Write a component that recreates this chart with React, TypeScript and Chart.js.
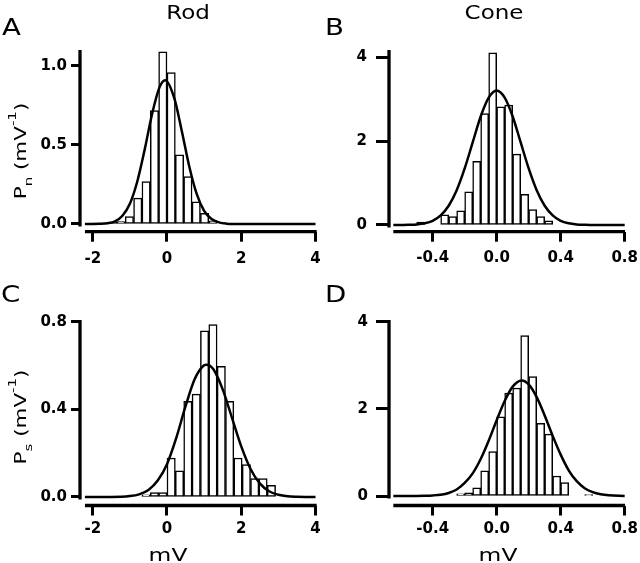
import { useEffect, useRef } from "react"
import { Chart, registerables } from "chart.js"

Chart.register(...registerables)

const FONT = '"DejaVu Sans", "Liberation Sans", sans-serif'

// bin widths of the histograms (mV)
const rodBinWidth = 0.225
const coneBinWidth = 0.05

// A - rod, noise
const rodNoiseBinStarts = [-2.025, -1.8, -1.575, -1.35, -1.125, -0.9, -0.675, -0.45, -0.225, 0, 0.225, 0.45, 0.675, 0.9, 1.125]
const rodNoiseDensity = [0.006, 0.006, 0.012, 0.015, 0.046, 0.163, 0.268, 0.717, 1.09, 0.958, 0.437, 0.3, 0.14, 0.068, 0.02]
const rodNoiseFitX = [-2.21, -2.0, -1.8, -1.6, -1.4, -1.2, -1.0, -0.8, -0.6, -0.4, -0.2, -0.05, 0.2, 0.4, 0.6, 0.8, 1.0, 1.2, 1.4, 1.6, 1.8, 2.2, 4.0]
const rodNoiseFitY = [0, 0, 0.001, 0.005, 0.017, 0.052, 0.128, 0.269, 0.472, 0.698, 0.866, 0.91, 0.794, 0.587, 0.364, 0.19, 0.083, 0.031, 0.01, 0.002, 0, 0, 0]

// B - cone, noise
const coneNoiseBinStarts = [-0.5, -0.35, -0.3, -0.25, -0.2, -0.15, -0.1, -0.05, 0, 0.05, 0.1, 0.15, 0.2, 0.25, 0.3]
const coneNoiseDensity = [0.07, 0.24, 0.2, 0.34, 0.79, 1.52, 2.66, 4.11, 2.82, 2.86, 1.69, 0.73, 0.37, 0.2, 0.1]
const coneNoiseFitX = [-0.646, -0.6, -0.55, -0.5, -0.45, -0.4, -0.35, -0.3, -0.25, -0.2, -0.15, -0.1, -0.05, 0, 0.05, 0.1, 0.15, 0.2, 0.25, 0.3, 0.35, 0.4, 0.45, 0.5, 0.55, 0.6, 0.8]
const coneNoiseFitY = [0, 0, 0.005, 0.014, 0.04, 0.1, 0.23, 0.46, 0.83, 1.35, 1.97, 2.59, 3.04, 3.21, 3.04, 2.59, 1.97, 1.35, 0.83, 0.46, 0.23, 0.1, 0.04, 0.014, 0.005, 0, 0]

// C - rod, signal
const rodSignalBinStarts = [-0.675, -0.45, -0.225, 0, 0.225, 0.45, 0.675, 0.9, 1.125, 1.35, 1.575, 1.8, 2.025, 2.25, 2.475, 2.7]
const rodSignalDensity = [0.01, 0.02, 0.02, 0.178, 0.119, 0.437, 0.47, 0.759, 0.788, 0.597, 0.437, 0.178, 0.148, 0.084, 0.084, 0.053]
const rodSignalFitX = [-2.21, -1.5, -1.0, -0.75, -0.5, -0.25, 0, 0.25, 0.5, 0.75, 1.0, 1.07, 1.25, 1.5, 1.75, 2.0, 2.25, 2.5, 2.75, 3.0, 3.25, 3.5, 4.0]
const rodSignalFitY = [0, 0, 0.004, 0.012, 0.032, 0.075, 0.15, 0.27, 0.415, 0.54, 0.602, 0.605, 0.584, 0.492, 0.362, 0.231, 0.128, 0.062, 0.026, 0.01, 0.003, 0.001, 0]

// D - cone, signal
const coneSignalBinStarts = [-0.25, -0.2, -0.15, -0.1, -0.05, 0, 0.05, 0.1, 0.15, 0.2, 0.25, 0.3, 0.35, 0.4, 0.55]
const coneSignalDensity = [0.05, 0.07, 0.19, 0.58, 1.02, 1.82, 2.36, 2.48, 3.68, 2.74, 1.67, 1.42, 0.46, 0.31, 0.03]
const coneSignalFitX = [-0.646, -0.5, -0.45, -0.4, -0.35, -0.3, -0.25, -0.2, -0.15, -0.1, -0.05, 0, 0.05, 0.1, 0.156, 0.2, 0.25, 0.3, 0.35, 0.4, 0.45, 0.5, 0.55, 0.6, 0.65, 0.7, 0.8]
const coneSignalFitY = [0, 0.001, 0.005, 0.013, 0.03, 0.07, 0.15, 0.3, 0.52, 0.85, 1.27, 1.74, 2.18, 2.51, 2.65, 2.56, 2.27, 1.85, 1.38, 0.95, 0.59, 0.34, 0.18, 0.09, 0.04, 0.015, 0]

// tick labels
const rodMvTicks = [-2, 0, 2, 4]
const coneMvTicks = [-0.4, 0, 0.4, 0.8]
const rodNoiseYTicks = [0, 0.5, 1]
const coneNoiseYTicks = [0, 2, 4]
const rodSignalYTicks = [0, 0.4, 0.8]
const coneSignalYTicks = [0, 2, 4]

const Y_AXIS_W = 60
const X_AXIS_H = 40

interface PanelProps {
  left: number
  top: number
  width: number
  height: number
  area: { left: number; right: number; top: number; bottom: number }
  xMin: number
  xMax: number
  yMin: number
  yMax: number
  xStart: number
  xTicks: number[]
  yTicks: number[]
  xDecimals: number
  yDecimals: number
  binStarts: number[]
  binWidth: number
  density: number[]
  fitX: number[]
  fitY: number[]
  yTickLength: number
  yTickPadding: number
  xTickPadding: number
}

// Igor-style axes: y axis stops at zero, x axis starts a bit right of the y axis
function offsetAxes(xStart: number) {
  return {
    id: "offsetAxes",
    afterDraw(chart: any) {
      const { ctx, chartArea, scales } = chart
      const zero = scales.y.getPixelForValue(0)
      ctx.save()
      ctx.strokeStyle = "#000"
      ctx.lineWidth = 3.3
      ctx.beginPath()
      ctx.moveTo(chartArea.left, chartArea.top)
      ctx.lineTo(chartArea.left, zero + 2.5)
      ctx.moveTo(scales.x.getPixelForValue(xStart), chartArea.bottom)
      ctx.lineTo(chartArea.right, chartArea.bottom)
      ctx.stroke()
      ctx.restore()
    },
  }
}

function HistogramPanel(p: PanelProps) {
  const chartRef = useRef<HTMLCanvasElement>(null)

  useEffect(() => {
    if (!chartRef.current) return
    const tickFont = { family: FONT, size: 15, weight: "bold" }
    const chart = new Chart(chartRef.current, {
      type: "bar",
      data: {
        datasets: [
          {
            type: "line",
            data: p.fitX.map((x, i) => ({ x, y: p.fitY[i] })),
            borderColor: "#000",
            borderWidth: 2.5,
            pointRadius: 0,
            cubicInterpolationMode: "monotone",
            fill: false,
            order: 0,
          } as any,
          {
            type: "bar",
            data: p.binStarts.map((s, i) => ({ x: s + p.binWidth / 2, y: p.density[i] })),
            backgroundColor: "#fff",
            borderColor: "#000",
            borderWidth: 1.5,
            borderSkipped: false,
            barPercentage: 1,
            categoryPercentage: 1,
            order: 1,
          },
        ],
      },
      options: {
        responsive: false,
        animation: false,
        layout: {
          padding: {
            left: p.area.left - Y_AXIS_W,
            right: p.width - p.area.right,
            top: p.area.top,
            bottom: p.height - p.area.bottom - X_AXIS_H,
          },
        },
        plugins: { legend: { display: false }, tooltip: { enabled: false } },
        scales: {
          x: {
            type: "linear",
            min: p.xMin,
            max: p.xMax,
            offset: false,
            afterBuildTicks: (s: any) => {
              s.ticks = p.xTicks.map((v) => ({ value: v }))
            },
            afterFit: (s: any) => {
              s.height = X_AXIS_H
            },
            border: { display: false },
            grid: {
              offset: false,
              drawOnChartArea: false,
              drawTicks: true,
              tickLength: 10,
              tickWidth: 3,
              tickColor: "#000",
            },
            ticks: {
              autoSkip: false,
              maxRotation: 0,
              padding: p.xTickPadding,
              color: "#000",
              font: tickFont,
              callback: (v: any) => Number(v).toFixed(p.xDecimals),
            },
          },
          y: {
            type: "linear",
            min: p.yMin,
            max: p.yMax,
            afterBuildTicks: (s: any) => {
              s.ticks = p.yTicks.map((v) => ({ value: v }))
            },
            afterFit: (s: any) => {
              s.width = Y_AXIS_W
            },
            border: { display: false },
            grid: {
              drawOnChartArea: false,
              drawTicks: true,
              tickLength: p.yTickLength,
              tickWidth: 3,
              tickColor: "#000",
            },
            ticks: {
              padding: p.yTickPadding,
              color: "#000",
              font: tickFont,
              callback: (v: any) => Number(v).toFixed(p.yDecimals),
            },
          },
        },
      } as any,
      plugins: [offsetAxes(p.xStart)],
    })

    return () => {
      chart.destroy()
    }
  }, [])

  return (
    <canvas
      ref={chartRef}
      width={p.width}
      height={p.height}
      style={{ position: "absolute", left: p.left, top: p.top, width: p.width, height: p.height }}
    />
  )
}

const textBase: any = {
  position: "absolute",
  fontFamily: FONT,
  lineHeight: 1,
  whiteSpace: "nowrap",
  color: "#000",
}

function Letter({ x, baseline, text }: { x: number; baseline: number; text: string }) {
  return (
    <div
      style={{
        ...textBase,
        left: x,
        top: baseline - 0.846 * 23,
        fontSize: 23,
        transform: "scaleX(1.2)",
        transformOrigin: "left top",
      }}
    >
      {text}
    </div>
  )
}

function Centered({ cx, baseline, size, stretch, text }: { cx: number; baseline: number; size: number; stretch: number; text: string }) {
  return (
    <div
      style={{
        ...textBase,
        left: cx,
        top: baseline - 0.846 * size,
        fontSize: size,
        transform: `translateX(-50%) scaleX(${stretch})`,
      }}
    >
      {text}
    </div>
  )
}

function YTitle({ cx, cy, sub }: { cx: number; cy: number; sub: string }) {
  return (
    <div
      style={{
        ...textBase,
        left: cx,
        top: cy,
        fontSize: 16,
        transform: "translate(-50%, -50%) rotate(-90deg) scaleX(1.34)",
      }}
    >
      P<span style={{ fontSize: "0.7em", position: "relative", top: 6 }}>{sub}</span> (mV
      <span style={{ fontSize: "0.7em", position: "relative", top: -10 }}>-1</span>)
    </div>
  )
}

export default function App() {
  return (
    <div
      style={{
        position: "absolute",
        left: 0,
        top: 0,
        width: 640,
        height: 563,
        overflow: "hidden",
        background: "#fff",
      }}
    >
      <HistogramPanel
        left={0}
        top={0}
        width={340}
        height={281}
        area={{ left: 80, right: 316.7, top: 50, bottom: 231.7 }}
        xMin={-2.343}
        xMax={4.032}
        yMin={-0.049}
        yMax={1.101}
        xStart={-2.21}
        xTicks={rodMvTicks}
        yTicks={rodNoiseYTicks}
        xDecimals={0}
        yDecimals={1}
        binStarts={rodNoiseBinStarts}
        binWidth={rodBinWidth}
        density={rodNoiseDensity}
        fitX={rodNoiseFitX}
        fitY={rodNoiseFitY}
        yTickLength={9}
        yTickPadding={4}
        xTickPadding={8}
      />
      <HistogramPanel
        left={320}
        top={0}
        width={340}
        height={281}
        area={{ left: 69, right: 305, top: 50, bottom: 231.7 }}
        xMin={-0.673}
        xMax={0.802}
        yMin={-0.16}
        yMax={4.176}
        xStart={-0.646}
        xTicks={coneMvTicks}
        yTicks={coneNoiseYTicks}
        xDecimals={1}
        yDecimals={0}
        binStarts={coneNoiseBinStarts}
        binWidth={coneBinWidth}
        density={coneNoiseDensity}
        fitX={coneNoiseFitX}
        fitY={coneNoiseFitY}
        yTickLength={13}
        yTickPadding={9}
        xTickPadding={7}
      />
      <HistogramPanel
        left={0}
        top={281}
        width={340}
        height={282}
        area={{ left: 80, right: 316.7, top: 39, bottom: 224.5 }}
        xMin={-2.343}
        xMax={4.032}
        yMin={-0.039}
        yMax={0.809}
        xStart={-2.21}
        xTicks={rodMvTicks}
        yTicks={rodSignalYTicks}
        xDecimals={0}
        yDecimals={1}
        binStarts={rodSignalBinStarts}
        binWidth={rodBinWidth}
        density={rodSignalDensity}
        fitX={rodSignalFitX}
        fitY={rodSignalFitY}
        yTickLength={9}
        yTickPadding={4}
        xTickPadding={5}
      />
      <HistogramPanel
        left={320}
        top={281}
        width={340}
        height={282}
        area={{ left: 69, right: 305, top: 39, bottom: 224.5 }}
        xMin={-0.673}
        xMax={0.802}
        yMin={-0.218}
        yMax={4.04}
        xStart={-0.646}
        xTicks={coneMvTicks}
        yTicks={coneSignalYTicks}
        xDecimals={1}
        yDecimals={0}
        binStarts={coneSignalBinStarts}
        binWidth={coneBinWidth}
        density={coneSignalDensity}
        fitX={coneSignalFitX}
        fitY={coneSignalFitY}
        yTickLength={13}
        yTickPadding={8}
        xTickPadding={5}
      />

      <Letter x={2} baseline={35} text="A" />
      <Letter x={325} baseline={35} text="B" />
      <Letter x={1} baseline={302} text="C" />
      <Letter x={325} baseline={302} text="D" />

      <Centered cx={187.5} baseline={19.3} size={20} stretch={1.15} text="Rod" />
      <Centered cx={494} baseline={18.5} size={20} stretch={1.15} text="Cone" />

      <Centered cx={167.5} baseline={561} size={18} stretch={1.3} text="mV" />
      <Centered cx={497.5} baseline={561} size={18} stretch={1.3} text="mV" />

      <YTitle cx={20.8} cy={150.8} sub="n" />
      <YTitle cx={20.8} cy={416.5} sub="s" />
    </div>
  )
}
